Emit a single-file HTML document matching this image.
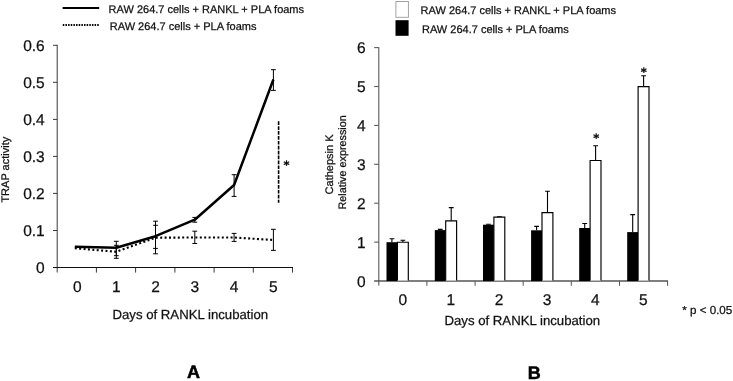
<!DOCTYPE html>
<html><head><meta charset="utf-8"><title>Figure</title>
<style>
html,body{margin:0;padding:0;background:#fff;}
svg{display:block;will-change:transform;filter:grayscale(1);}
text{font-family:"Liberation Sans",Arial,sans-serif;fill:#111;stroke:#111;stroke-width:0.25px;text-rendering:geometricPrecision;}
text.nb{stroke:#000;stroke-width:0.5px;fill:#000;}
text.dj{font-family:"DejaVu Sans","Liberation Sans",sans-serif;fill:#000;}
</style></head><body>
<svg width="733" height="381" viewBox="0 0 733 381">
<rect width="733" height="381" fill="#fff"/>

<g id="chartA">
<line x1="62.6" y1="7.9" x2="99.2" y2="7.9" stroke="#000" stroke-width="2"/>
<line x1="62.8" y1="25.0" x2="99.6" y2="25.0" stroke="#000" stroke-width="2" stroke-dasharray="1.5,1.15"/>
<text x="108.6" y="12.6" font-size="11">RAW 264.7 cells + RANKL + PLA foams</text>
<text x="109.8" y="29.6" font-size="11">RAW 264.7 cells + PLA foams</text>
<g stroke="#3a3a3a" stroke-width="1" fill="none">
<line x1="57.2" y1="44.8" x2="57.2" y2="272.5"/>
<line x1="53" y1="230.5" x2="57.2" y2="230.5"/>
<line x1="53" y1="193.4" x2="57.2" y2="193.4"/>
<line x1="53" y1="156.4" x2="57.2" y2="156.4"/>
<line x1="53" y1="119.4" x2="57.2" y2="119.4"/>
<line x1="53" y1="82.3" x2="57.2" y2="82.3"/>
<line x1="53" y1="45.3" x2="57.2" y2="45.3"/>
<line x1="96.4" y1="267.5" x2="96.4" y2="272.6"/>
<line x1="135.6" y1="267.5" x2="135.6" y2="272.6"/>
<line x1="174.9" y1="267.5" x2="174.9" y2="272.6"/>
<line x1="214.1" y1="267.5" x2="214.1" y2="272.6"/>
<line x1="253.3" y1="267.5" x2="253.3" y2="272.6"/>
<line x1="292.5" y1="267.5" x2="292.5" y2="272.6"/>
<line x1="53" y1="267.5" x2="293" y2="267.5" stroke="#111" stroke-width="1.15"/>
</g>
<text x="44.7" y="272.6" font-size="15.5" text-anchor="end">0</text>
<text x="44.7" y="235.6" font-size="15.5" text-anchor="end">0.1</text>
<text x="44.7" y="198.6" font-size="15.5" text-anchor="end">0.2</text>
<text x="44.7" y="161.6" font-size="15.5" text-anchor="end">0.3</text>
<text x="44.7" y="124.6" font-size="15.5" text-anchor="end">0.4</text>
<text x="44.7" y="87.6" font-size="15.5" text-anchor="end">0.5</text>
<text x="44.7" y="50.6" font-size="15.5" text-anchor="end">0.6</text>
<text x="77.2" y="292" font-size="15.5" text-anchor="middle">0</text>
<text x="116.3" y="292" font-size="15.5" text-anchor="middle">1</text>
<text x="155.5" y="292" font-size="15.5" text-anchor="middle">2</text>
<text x="194.8" y="292" font-size="15.5" text-anchor="middle">3</text>
<text x="234.1" y="292" font-size="15.5" text-anchor="middle">4</text>
<text x="273.4" y="292" font-size="15.5" text-anchor="middle">5</text>
<text x="190.3" y="318.8" font-size="13.2" text-anchor="middle">Days of RANKL incubation</text>
<text transform="translate(9,202.6) rotate(-90)" font-size="11">TRAP activity</text>
<text x="193.4" y="378" font-size="18" font-weight="bold" text-anchor="middle" class="nb">A</text>
<path d="M116.3 241.3V255.7M113.9 241.3H118.7M113.9 255.7H118.7" stroke="#000" stroke-width="1.0" fill="none"/>
<path d="M155.5 221.2V253.8M153.1 221.2H157.9M153.1 253.8H157.9" stroke="#000" stroke-width="1.0" fill="none"/>
<path d="M194.8 217.4V222.2M192.4 217.4H197.2M192.4 222.2H197.2" stroke="#000" stroke-width="1.0" fill="none"/>
<path d="M234.1 174.7V196.4M231.7 174.7H236.5M231.7 196.4H236.5" stroke="#000" stroke-width="1.0" fill="none"/>
<path d="M273.4 69.7V90.4M271.0 69.7H275.8M271.0 90.4H275.8" stroke="#000" stroke-width="1.0" fill="none"/>
<path d="M116.3 245.3V258.3M113.9 245.3H118.7M113.9 258.3H118.7" stroke="#000" stroke-width="1.0" fill="none"/>
<path d="M155.5 225.3V248.4M153.1 225.3H157.9M153.1 248.4H157.9" stroke="#000" stroke-width="1.0" fill="none"/>
<path d="M194.8 231.2V243.5M192.4 231.2H197.2M192.4 243.5H197.2" stroke="#000" stroke-width="1.0" fill="none"/>
<path d="M234.1 233.4V241.4M231.7 233.4H236.5M231.7 241.4H236.5" stroke="#000" stroke-width="1.0" fill="none"/>
<path d="M273.4 229.3V250.4M271.0 229.3H275.8M271.0 250.4H275.8" stroke="#000" stroke-width="1.0" fill="none"/>
<polyline points="74.8,248.2 116.3,251.8 155.5,237.7 194.8,237.5 234.1,237.5 273.4,240.0" fill="none" stroke="#000" stroke-width="2.1" stroke-dasharray="2,2.4"/>
<polyline points="74.8,246.7 116.3,247.8 155.5,236.2 194.8,219.7 234.1,185.0 273.4,79.5" fill="none" stroke="#000" stroke-width="2.5" stroke-linejoin="round"/>
<line x1="278.6" y1="121.3" x2="278.6" y2="202.7" stroke="#000" stroke-width="1.6" stroke-dasharray="3.7,1.2"/>
<text x="286.6" y="169.0" font-size="11.5" font-weight="bold" text-anchor="middle" class="dj">*</text>
</g>
<g id="chartB">
<rect x="395.9" y="1.5" width="12.5" height="15.8" fill="#fff" stroke="#999" stroke-width="0.9"/>
<rect x="395.5" y="20.2" width="13.1" height="15.6" fill="#000"/>
<text x="420.6" y="13.9" font-size="11">RAW 264.7 cells + RANKL + PLA foams</text>
<text x="422" y="32.7" font-size="11">RAW 264.7 cells + PLA foams</text>
<g stroke="#5a5a5a" stroke-width="1.1" fill="none">
<line x1="378.8" y1="47.2" x2="378.8" y2="285.5"/>
<line x1="374.2" y1="242.1" x2="378.8" y2="242.1"/>
<line x1="374.2" y1="203.2" x2="378.8" y2="203.2"/>
<line x1="374.2" y1="164.3" x2="378.8" y2="164.3"/>
<line x1="374.2" y1="125.4" x2="378.8" y2="125.4"/>
<line x1="374.2" y1="86.5" x2="378.8" y2="86.5"/>
<line x1="374.2" y1="47.6" x2="378.8" y2="47.6"/>
<line x1="426.9" y1="281.0" x2="426.9" y2="285.8" stroke="#555" stroke-width="1"/>
<line x1="475.1" y1="281.0" x2="475.1" y2="285.8" stroke="#555" stroke-width="1"/>
<line x1="523.2" y1="281.0" x2="523.2" y2="285.8" stroke="#555" stroke-width="1"/>
<line x1="571.3" y1="281.0" x2="571.3" y2="285.8" stroke="#555" stroke-width="1"/>
<line x1="619.5" y1="281.0" x2="619.5" y2="285.8" stroke="#555" stroke-width="1"/>
<line x1="667.6" y1="281.0" x2="667.6" y2="285.8" stroke="#555" stroke-width="1"/>
<line x1="374.2" y1="281.0" x2="668" y2="281.0" stroke="#555" stroke-width="1.3"/>
</g>
<text x="365.7" y="286.6" font-size="15.5" text-anchor="end">0</text>
<text x="365.7" y="247.7" font-size="15.5" text-anchor="end">1</text>
<text x="365.7" y="208.8" font-size="15.5" text-anchor="end">2</text>
<text x="365.7" y="169.9" font-size="15.5" text-anchor="end">3</text>
<text x="365.7" y="131.0" font-size="15.5" text-anchor="end">4</text>
<text x="365.7" y="92.1" font-size="15.5" text-anchor="end">5</text>
<text x="365.7" y="53.2" font-size="15.5" text-anchor="end">6</text>
<text x="402.7" y="305" font-size="15.5" text-anchor="middle">0</text>
<text x="450.8" y="305" font-size="15.5" text-anchor="middle">1</text>
<text x="499.0" y="305" font-size="15.5" text-anchor="middle">2</text>
<text x="547.1" y="305" font-size="15.5" text-anchor="middle">3</text>
<text x="595.3" y="305" font-size="15.5" text-anchor="middle">4</text>
<text x="643.4" y="305" font-size="15.5" text-anchor="middle">5</text>
<text x="522.3" y="324.9" font-size="13.2" text-anchor="middle">Days of RANKL incubation</text>
<text transform="translate(332.7,194.4) rotate(-90)" font-size="11">Cathepsin K</text>
<text transform="translate(345.9,209.5) rotate(-90)" font-size="10.8">Relative expression</text>
<text x="534.3" y="378.8" font-size="18" font-weight="bold" text-anchor="middle" class="nb">B</text>
<text x="682.3" y="314" font-size="11.6">* p &lt; 0.05</text>
<path d="M391.9 242.2V238.7M389.6 238.7H394.3" stroke="#000" stroke-width="1.1" fill="none"/>
<path d="M402.9 242.2V240.3M400.5 240.3H405.2" stroke="#000" stroke-width="1.1" fill="none"/>
<rect x="386.5" y="242.2" width="10.9" height="38.9" fill="#000"/>
<path d="M397.4 280.5V242.2H408.3V280.5" fill="#fff" stroke="#000" stroke-width="1.15"/>
<path d="M440.2 230.1V229.4M437.9 229.4H442.6" stroke="#000" stroke-width="1.1" fill="none"/>
<path d="M451.2 220.8V207.6M448.8 207.6H453.6" stroke="#000" stroke-width="1.1" fill="none"/>
<rect x="434.8" y="230.1" width="10.9" height="51.0" fill="#000"/>
<path d="M445.7 280.5V220.8H456.6V280.5" fill="#fff" stroke="#000" stroke-width="1.15"/>
<path d="M488.4 224.7V224.3M486.1 224.3H490.8" stroke="#000" stroke-width="1.1" fill="none"/>
<path d="M499.4 217.1V216.7M497.0 216.7H501.8" stroke="#000" stroke-width="1.1" fill="none"/>
<rect x="483.0" y="224.7" width="10.9" height="56.4" fill="#000"/>
<path d="M493.9 280.5V217.1H504.8V280.5" fill="#fff" stroke="#000" stroke-width="1.15"/>
<path d="M536.6 230.3V226.4M534.2 226.4H539.0" stroke="#000" stroke-width="1.1" fill="none"/>
<path d="M547.5 212.6V191.2M545.1 191.2H549.9" stroke="#000" stroke-width="1.1" fill="none"/>
<rect x="531.1" y="230.3" width="10.9" height="50.8" fill="#000"/>
<path d="M542.0 280.5V212.6H552.9V280.5" fill="#fff" stroke="#000" stroke-width="1.15"/>
<path d="M584.7 228.0V223.5M582.3 223.5H587.1" stroke="#000" stroke-width="1.1" fill="none"/>
<path d="M595.6 160.5V145.7M593.2 145.7H598.0" stroke="#000" stroke-width="1.1" fill="none"/>
<rect x="579.2" y="228.0" width="10.9" height="53.1" fill="#000"/>
<path d="M590.1 280.5V160.5H601.0V280.5" fill="#fff" stroke="#000" stroke-width="1.15"/>
<path d="M632.7 232.1V214.6M630.3 214.6H635.1" stroke="#000" stroke-width="1.1" fill="none"/>
<path d="M643.6 86.6V75.7M641.2 75.7H646.0" stroke="#000" stroke-width="1.1" fill="none"/>
<rect x="627.2" y="232.1" width="10.9" height="49.0" fill="#000"/>
<path d="M638.1 280.5V86.6H649.0V280.5" fill="#fff" stroke="#000" stroke-width="1.15"/>
<text x="596.2" y="142.4" font-size="11.5" font-weight="bold" text-anchor="middle" class="dj">*</text>
<text x="643.7" y="75.8" font-size="11.5" font-weight="bold" text-anchor="middle" class="dj">*</text>
</g>
</svg></body></html>
